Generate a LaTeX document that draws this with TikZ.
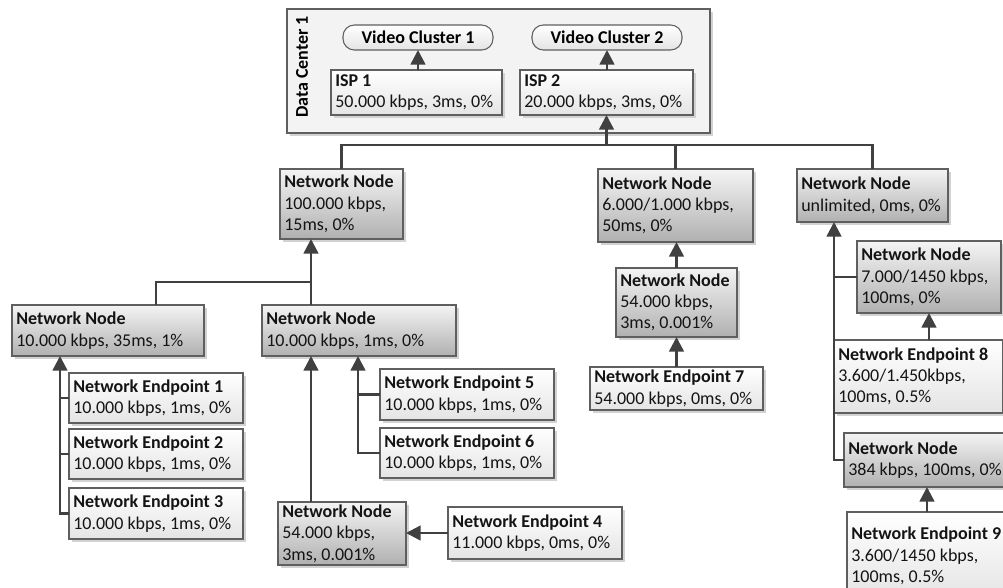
\documentclass[tikz,border=0pt]{standalone}
\usepackage{fontspec}
\setmainfont{Carlito}
\usetikzlibrary{arrows.meta,calc}
\definecolor{linec}{HTML}{404040}
\definecolor{borderc}{HTML}{5F5F5F}
\definecolor{shadowc}{HTML}{D2D2D2}
\definecolor{dcfill}{HTML}{F3F3F3}
\definecolor{nntop}{HTML}{F4F4F4}
\definecolor{nnbot}{HTML}{B0B0B0}
\definecolor{eptop}{HTML}{FFFFFF}
\definecolor{epbot}{HTML}{E4E4E4}
\newcommand\bx[7]{%
  \node[#6, anchor=north west, minimum width={(#4-#2)*0.75pt}, minimum height={(#5-#3)*0.75pt}] (#1) at (#2,#3) {};
  \node[txt] (#1t) at ([xshift=3pt]#1.west) {#7};}
\begin{document}
\begin{tikzpicture}[x=0.75pt,y=-0.75pt,
  font=\fontsize{13.5pt}{16pt}\selectfont,
  shadowed/.style={preaction={fill=shadowc, draw=none, transform canvas={shift={(2.5pt,-2.5pt)}}}},
  basebox/.style={rectangle, draw=borderc, line width=0.8pt, inner sep=0pt, outer sep=0pt, shadowed},
  nn/.style={basebox, top color=nntop, bottom color=nnbot},
  ep/.style={basebox, top color=eptop, bottom color=epbot},
  dc/.style={basebox, fill=dcfill},
  vc/.style={rectangle, rounded corners=8.5pt, draw=borderc, line width=0.8pt, top color=white, bottom color=epbot, inner sep=0pt, outer sep=0pt, font=\fontsize{13.5pt}{16pt}\selectfont\bfseries},
  txt/.style={anchor=west, align=left, inner sep=0pt, text=black!92},
  conn/.style={draw=linec, line width=1.9pt},
  arr/.style={conn, -{Triangle[length=11pt,width=11pt]}}]
\clip (0,0) rectangle (1003,588);
\fill[white] (0,0) rectangle (1003,588);

% Data center
\node[dc, anchor=north west, minimum width={(710-287)*0.75pt}, minimum height={(133-9)*0.75pt}] (DC) at (287,9) {};
\node[rotate=90, font=\fontsize{13.5pt}{16pt}\selectfont\bfseries] (DCl) at (302,67) {Data Center 1};
\node[vc, anchor=north west, minimum width={(493-343)*0.75pt}, minimum height={(50-25)*0.75pt}] (VC1) at (343,25) {Video Cluster 1};
\node[vc, anchor=north west, minimum width={(682-532)*0.75pt}, minimum height={(50-25)*0.75pt}] (VC2) at (532,25) {Video Cluster 2};
\bx{ISP1}{331}{70}{502}{115}{ep}{\textbf{ISP 1}\\50.000 kbps, 3ms, 0\%}
\bx{ISP2}{520}{70}{693}{115}{ep}{\textbf{ISP 2}\\20.000 kbps, 3ms, 0\%}

% Network nodes
\bx{A}{280}{169}{403}{239}{nn}{\textbf{Network Node}\\100.000 kbps,\\15ms, 0\%}
\bx{B}{598}{169}{753}{242}{nn}{\textbf{Network Node}\\6.000/1.000 kbps,\\50ms, 0\%}
\bx{C}{797}{169}{948}{222}{nn}{\textbf{Network Node}\\unlimited, 0ms, 0\%}
\bx{D}{616}{268}{737}{337}{nn}{\textbf{Network Node}\\54.000 kbps,\\3ms, 0.001\%}
\bx{EP7}{590}{367}{763}{410}{ep}{\textbf{Network Endpoint 7}\\54.000 kbps, 0ms, 0\%}
\bx{E}{857}{241}{1001}{313}{nn}{\textbf{Network Node}\\7.000/1450 kbps,\\100ms, 0\%}
\bx{EP8}{834}{340}{1003}{413}{ep}{\textbf{Network Endpoint 8}\\3.600/1.450kbps,\\100ms, 0.5\%}
\bx{F}{844}{433}{1010}{487}{nn}{\textbf{Network Node}\\384 kbps, 100ms, 0\%}
\bx{EP9}{847}{512}{1008}{600}{ep}{\textbf{Network Endpoint 9}\\3.600/1450 kbps,\\100ms, 0.5\%}
\bx{G}{12}{305}{204}{356}{nn}{\textbf{Network Node}\\10.000 kbps, 35ms, 1\%}
\bx{H}{262}{305}{456}{356}{nn}{\textbf{Network Node}\\10.000 kbps, 1ms, 0\%}
\bx{EP1}{69}{373}{243}{423}{ep}{\textbf{Network Endpoint 1}\\10.000 kbps, 1ms, 0\%}
\bx{EP2}{69}{429}{243}{479}{ep}{\textbf{Network Endpoint 2}\\10.000 kbps, 1ms, 0\%}
\bx{EP3}{69}{488}{243}{539}{ep}{\textbf{Network Endpoint 3}\\10.000 kbps, 1ms, 0\%}
\bx{EP5}{380}{369}{554}{420}{ep}{\textbf{Network Endpoint 5}\\10.000 kbps, 1ms, 0\%}
\bx{EP6}{380}{428}{554}{478}{ep}{\textbf{Network Endpoint 6}\\10.000 kbps, 1ms, 0\%}
\bx{I}{278}{502}{406}{565}{nn}{\textbf{Network Node}\\54.000 kbps,\\3ms, 0.001\%}
\bx{EP4}{448}{507}{622}{559}{ep}{\textbf{Network Endpoint 4}\\11.000 kbps, 0ms, 0\%}

% helper coordinates
\coordinate (bus) at (0,145);
\coordinate (jA) at (311,282);
\coordinate (gx) at (156,282);
\coordinate (vG) at (60,0);
\coordinate (vH) at (358,0);
\coordinate (vC) at (834,0);

% connectors
\draw[arr] (ISP1.north -| VC1.south) -- (VC1.south);
\draw[arr] (ISP2.north -| VC2.south) -- (VC2.south);
\draw[conn] (A.north) -- (A.north |- bus) -- (C.north |- bus) -- (C.north);
\draw[conn] (B.north) -- (B.north |- bus);
\draw[arr] (ISP2.south |- bus) -- (ISP2.south);
\draw[conn] (G.north -| gx) -- (gx) -- (jA);
\draw[arr] (H.north -| jA) -- (A.south -| jA);
\draw[arr] (EP3.west) -- (EP3.west -| vG) -- (G.south -| vG);
\draw[conn] (EP1.west) -- (EP1.west -| vG);
\draw[conn] (EP2.west) -- (EP2.west -| vG);
\draw[arr] (EP6.west) -- (EP6.west -| vH) -- (H.south -| vH);
\draw[conn] (EP5.west) -- (EP5.west -| vH);
\draw[arr] (I.north -| jA) -- (H.south -| jA);
\draw[arr] (EP4.west) -- (EP4.west -| I.east);
\draw[arr] (D.north) -- (D.north |- B.south);
\draw[arr] (EP7.north) -- (EP7.north |- D.south);
\draw[arr] (F.west) -- (F.west -| vC) -- (C.south -| vC);
\draw[conn] (E.west) -- (E.west -| vC);
\draw[arr] (EP8.north -| E.south) -- (E.south);
\draw[arr] (EP9.north -| F.south) -- (F.south);
\end{tikzpicture}
\end{document}
